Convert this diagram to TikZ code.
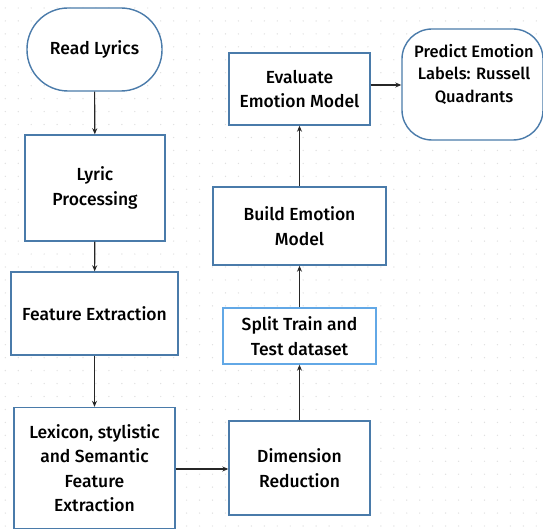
\documentclass[tikz,border=0pt]{standalone}
\usepackage{fontspec}
\setmainfont{Fira Sans Medium}
\usetikzlibrary{arrows.meta}
\definecolor{bdr}{HTML}{4A7BAA}
\definecolor{bdrl}{HTML}{62A8E6}
\tikzset{
  box/.style={draw=bdr, line width=1.4pt, fill=white, align=center, inner sep=0pt,
    font=\fontsize{17.5}{24.5}\selectfont},
  conn/.style={draw=black!85, line width=1.1pt, -{Stealth[length=6pt,width=5pt]}},
}
\begin{document}
\begin{tikzpicture}[x=1pt,y=-1pt]
\useasboundingbox (0,0) rectangle (543,529);
\fill[white] (0,0) rectangle (543,529);
\foreach \i in {0,...,42} {
  \foreach \j in {0,...,41} {
    \fill[black!12] (5.3+\i*12.95, 8+\j*12.95) circle (0.7);
  }
}
\node[box, rounded corners=41, minimum width=135, minimum height=83] (read) at (94.5,49.5) {Read Lyrics};
\node[box, minimum width=140, minimum height=106] (lyric) at (95,188) {Lyric\\Processing};
\node[box, minimum width=167, minimum height=83] (feat) at (94.5,313.5) {Feature Extraction};
\node[box, minimum width=161, minimum height=121] (lex) at (94.5,468) {Lexicon, stylistic\\and Semantic\\Feature\\Extraction};
\node[box, minimum width=141, minimum height=94] (dim) at (299.5,468) {Dimension\\Reduction};
\node[box, draw=bdrl, minimum width=153, minimum height=56] (split) at (299.5,336) {Split Train and\\Test dataset};
\node[box, minimum width=173, minimum height=78] (build) at (299.5,226) {Build Emotion\\Model};
\node[box, minimum width=141, minimum height=72] (eval) at (299.5,89) {Evaluate\\Emotion Model};
\node[box, rounded corners=30, minimum width=141, minimum height=111] (pred) at (472.5,84.5) {};
\node[align=center, inner sep=0pt, font=\fontsize{16.5}{22.5}\selectfont] (predt) at (474,74) {Predict Emotion\\Labels: Russell\\Quadrants};
\draw[conn] (read) -- (lyric);
\draw[conn] (lyric) -- (feat);
\draw[conn] (feat) -- (lex);
\draw[conn] (lex.east |- 0,469) -- (dim.west |- 0,469);
\draw[conn] (dim) -- (split);
\draw[conn] (split) -- (build);
\draw[conn] (build) -- (eval);
\draw[conn] (eval.east |- 0,85) -- (pred.west |- 0,85);
\end{tikzpicture}
\end{document}
